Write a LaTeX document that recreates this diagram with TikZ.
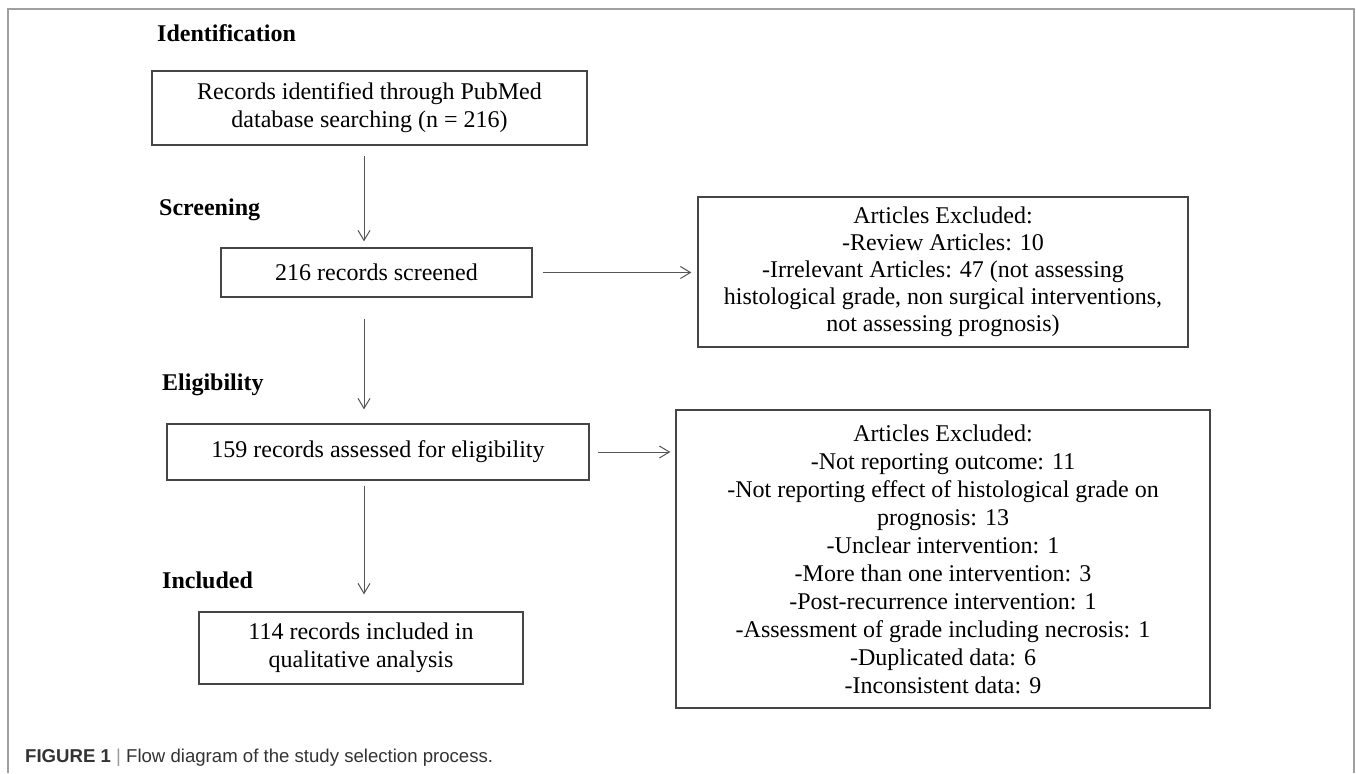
\documentclass[tikz,border=0pt]{standalone}
\usepackage{fontspec}
\setmainfont{Liberation Serif}
\setsansfont{Liberation Sans}
\usetikzlibrary{arrows.meta}
\definecolor{framegray}{HTML}{A0A0A0}
\definecolor{boxgray}{HTML}{454545}
\definecolor{arrgray}{HTML}{555555}
\definecolor{captext}{HTML}{333333}
\definecolor{capbar}{HTML}{9A9A9A}
\tikzset{
  box/.style={draw=boxgray, line width=1.3pt, rectangle, align=center, inner sep=0pt,
    font=\fontsize{24}{28}\selectfont, text=black},
  stage/.style={font=\bfseries\fontsize{24}{28}\selectfont, inner sep=0pt, anchor=west, text=black},
  arr/.style={draw=arrgray, line width=1pt, -{Straight Barb[length=10pt,width=12pt,line width=1pt]}},
}
\begin{document}
\begin{tikzpicture}[x=1pt,y=-1pt]
\useasboundingbox (0,0) rectangle (1356,773);
\fill[white] (0,0) rectangle (1356,773);
% outer frame
\draw[framegray, line width=1.5pt] (8,773) -- (8,9) -- (1354,9) -- (1354,773);
% stage labels
\node[stage] (tid) at (157,33) {Identification};
\node[stage] (tsc) at (159,210) {Screening};
\node[stage] (tel) at (162,385) {Eligibility};
\node[stage] (tin) at (162,580) {Included};
% boxes
\node[box, minimum width=435pt, minimum height=74pt] (b1) at (369.5,108)
  {Records identified through PubMed\\database searching (n = 216)};
\node[box, minimum width=311pt, minimum height=49pt] (b2) at (376.5,272.5)
  {216 records screened};
\node[box, minimum width=490pt, minimum height=150pt, font=\fontsize{24}{27}\selectfont] (b3) at (943,272)
  {Articles Excluded:\\-Review Articles: 10\\-Irrelevant Articles: 47 (not assessing\\histological grade, non surgical interventions,\\not assessing prognosis)};
\node[box, minimum width=422pt, minimum height=56pt] (b4) at (378,452)
  {159 records assessed for eligibility};
\node[box, minimum width=534pt, minimum height=298pt] (b5) at (943,559)
  {Articles Excluded:\\-Not reporting outcome: 11\\-Not reporting effect of histological grade on\\prognosis: 13\\-Unclear intervention: 1\\-More than one intervention: 3\\-Post-recurrence intervention: 1\\-Assessment of grade including necrosis: 1\\-Duplicated data: 6\\-Inconsistent data: 9};
\node[box, minimum width=324pt, minimum height=72pt] (b6) at (361,648)
  {114 records included in\\qualitative analysis};
% arrows
\coordinate (ax) at (364,0);
\draw[arr, shorten <=10pt, shorten >=6pt] (b1.south -| ax) -- (b2.north -| ax);
\draw[arr, shorten <=10.5pt, shorten >=6pt] (b2.east) -- (b3.west |- b2.east);
\draw[arr, shorten <=21pt, shorten >=14pt] (b2.south -| ax) -- (b4.north -| ax);
\draw[arr, shorten <=8pt, shorten >=5pt] (b4.east) -- (b5.west |- b4.east);
\draw[arr, shorten <=5pt, shorten >=17pt] (b4.south -| ax) -- (b6.north -| ax);
% caption
\node[anchor=west, inner sep=0pt, font=\sffamily\fontsize{18.6}{22}\selectfont, text=captext] (cap) at (25,758)
  {\textbf{FIGURE 1} {\color{capbar}|} Flow diagram of the study selection process.};
\end{tikzpicture}
\end{document}
